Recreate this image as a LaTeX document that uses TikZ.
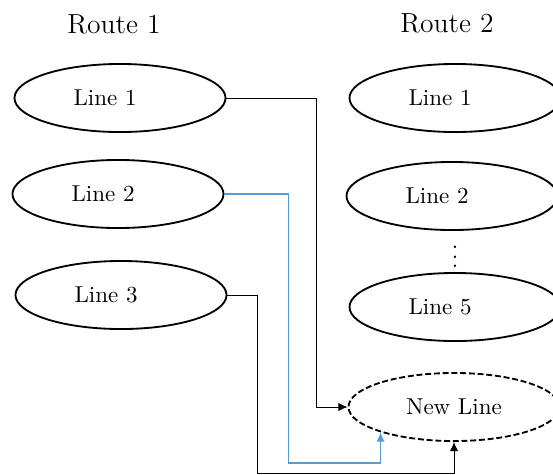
\documentclass[tikz,border=0pt]{standalone}
\usepackage{xcolor}
\usepackage{amsmath}
\usepackage{tikz}
\usetikzlibrary{shapes.geometric, arrows.meta}

\definecolor{linkblue}{RGB}{91,155,213}

\begin{document}
\begin{tikzpicture}[
    x=0.435pt, y=-0.435pt,
    route/.style={ellipse, draw, thick, minimum width=91.8pt, minimum height=29.6pt, inner sep=0pt},
    newroute/.style={route, dash pattern=on 2.6pt off 1.2pt},
    txt/.style={xshift=-6.5pt},
    title/.style={font=\large},
    arrow/.style={-{Latex[length=4pt, width=3.6pt]}},
    bluearrow/.style={arrow, semithick, linkblue}
]
    \useasboundingbox (0,0) rectangle (553,474);

    % Titles
    \node[title] (t1) at (114,24) {Route 1};
    \node[title] (t2) at (447,23) {Route 2};

    % Route 1
    \node[route, label={[txt]center:Line 1}] (a1) at (120,98) {};
    \node[route, label={[txt]center:Line 2}] (a2) at (118,194) {};
    \node[route, label={[txt]center:Line 3}] (a3) at (121,295) {};

    % Route 2
    \node[route, label={[txt]center:Line 1}] (b1) at (455,98) {};
    \node[route, label={[txt]center:Line 2}] (b2) at (452,196) {};
    \node (dots) at (455,250) {$\vdots$};
    \node[route, label={[txt]center:Line 5}] (b5) at (455,307) {};

    % New line
    \node[newroute] (new) at (454,407) {New Line};

    % Arrows
    \draw[arrow] (a1.east) -- ++(90.5,0) |- (new.west);
    \draw[bluearrow] (a2.east) -| ++(64,269) -| (new.199);
    \draw[arrow] (a3.east) -| ++(30,178) -| (new.south);

\end{tikzpicture}
\end{document}
